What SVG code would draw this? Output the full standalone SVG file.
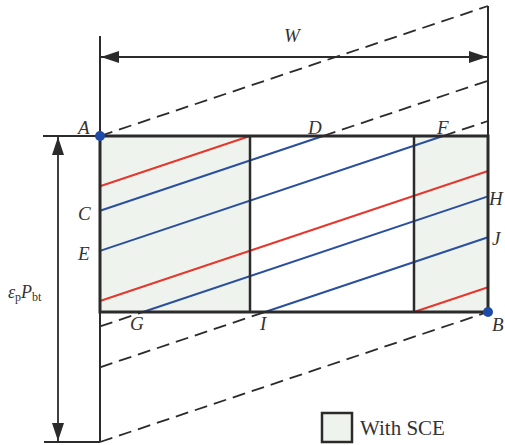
<svg xmlns="http://www.w3.org/2000/svg" width="505" height="445" viewBox="0 0 505 445">
<defs>
<style>
.frame{stroke:#2b2b2b;fill:none}
.dash{stroke:#2b2b2b;stroke-width:1.8;stroke-dasharray:13,7;fill:none}
.red{stroke:#e5372d;stroke-width:2;fill:none}
.blue{stroke:#2a4f9f;stroke-width:2;fill:none}
.sce{fill:#eff3ed;stroke:none}
.lbl{font-family:"Liberation Serif","Times New Roman",serif;font-style:italic;font-size:19px;fill:#333}
.txt{font-family:"Liberation Serif","Times New Roman",serif;font-size:21px;fill:#333}
.dot{fill:#1e4aa8}
</style>
<marker id="ah" viewBox="0 0 18 12" refX="18" refY="6" markerWidth="18" markerHeight="12" markerUnits="userSpaceOnUse" orient="auto-start-reverse">
<path d="M0,0 L18,6 L0,12 Z" fill="#2b2b2b"/>
</marker>
</defs>
<rect width="505" height="445" fill="#fff"/>

<g id="plate">
<rect class="sce" x="100" y="136" width="150" height="176"/>
<rect class="sce" x="414" y="136" width="74" height="176"/>
</g>

<g id="connectors">
<line class="dash" x1="100" y1="136" x2="488" y2="6"/>
<line class="dash" x1="323" y1="136" x2="488" y2="80.7"/>
<line class="dash" x1="443" y1="136" x2="488" y2="121"/>
<line class="dash" x1="100" y1="326.4" x2="143" y2="312"/>
<line class="dash" x1="100" y1="367.3" x2="265" y2="312"/>
<line class="dash" x1="100" y1="442" x2="488" y2="312"/>
<line class="red" x1="100" y1="186.3" x2="250" y2="136"/>
<line class="red" x1="100" y1="301" x2="488" y2="171"/>
<line class="red" x1="414" y1="312" x2="488" y2="287.2"/>
<line class="blue" x1="100" y1="210.7" x2="323" y2="136"/>
<line class="blue" x1="100" y1="250.9" x2="443" y2="136"/>
<line class="blue" x1="143" y1="312" x2="488" y2="196.4"/>
<line class="blue" x1="265" y1="312" x2="488" y2="237.3"/>
</g>

<g id="frame">
<line class="frame" stroke-width="2" x1="100" y1="36" x2="100" y2="442"/>
<line class="frame" stroke-width="2" x1="488" y1="6" x2="488" y2="136"/>
<line class="frame" stroke-width="1.8" x1="43" y1="136" x2="100" y2="136"/>
<line class="frame" stroke-width="1.8" x1="44" y1="442" x2="100" y2="442"/>
<line class="frame" stroke-width="2.5" x1="250" y1="136" x2="250" y2="312"/>
<line class="frame" stroke-width="2.5" x1="414" y1="136" x2="414" y2="312"/>
<rect class="frame" stroke-width="3" x="100" y="136" width="388" height="176"/>
</g>

<g id="dimensions">
<line stroke="#2b2b2b" stroke-width="1.8" x1="101" y1="57" x2="487" y2="57" marker-start="url(#ah)" marker-end="url(#ah)"/>
<line stroke="#2b2b2b" stroke-width="1.8" x1="58" y1="137" x2="58" y2="441" marker-start="url(#ah)" marker-end="url(#ah)"/>
<text class="lbl" x="284" y="42">W</text>
<text x="8" y="298" font-family="'Liberation Serif','Times New Roman',serif" font-size="18" fill="#333"><tspan font-style="italic">ε</tspan><tspan font-size="12" dy="3">p</tspan><tspan font-style="italic" dy="-3">P</tspan><tspan font-size="12" dy="3">bt</tspan></text>
</g>

<g id="points">
<circle class="dot" cx="100" cy="136" r="5"/>
<circle class="dot" cx="488" cy="312" r="5"/>
<text class="lbl" x="78" y="134">A</text>
<text class="lbl" x="308" y="134">D</text>
<text class="lbl" x="437" y="134">F</text>
<text class="lbl" x="78" y="220">C</text>
<text class="lbl" x="78" y="260">E</text>
<text class="lbl" x="489" y="205">H</text>
<text class="lbl" x="492" y="245">J</text>
<text class="lbl" x="130" y="330">G</text>
<text class="lbl" x="260" y="330">I</text>
<text class="lbl" x="492" y="331">B</text>
</g>

<g id="legend">
<rect x="322" y="413" width="30" height="29" fill="#eff3ed" stroke="#2b2b2b" stroke-width="2.5"/>
<text class="txt" x="360" y="435">With SCE</text>
</g>
</svg>
